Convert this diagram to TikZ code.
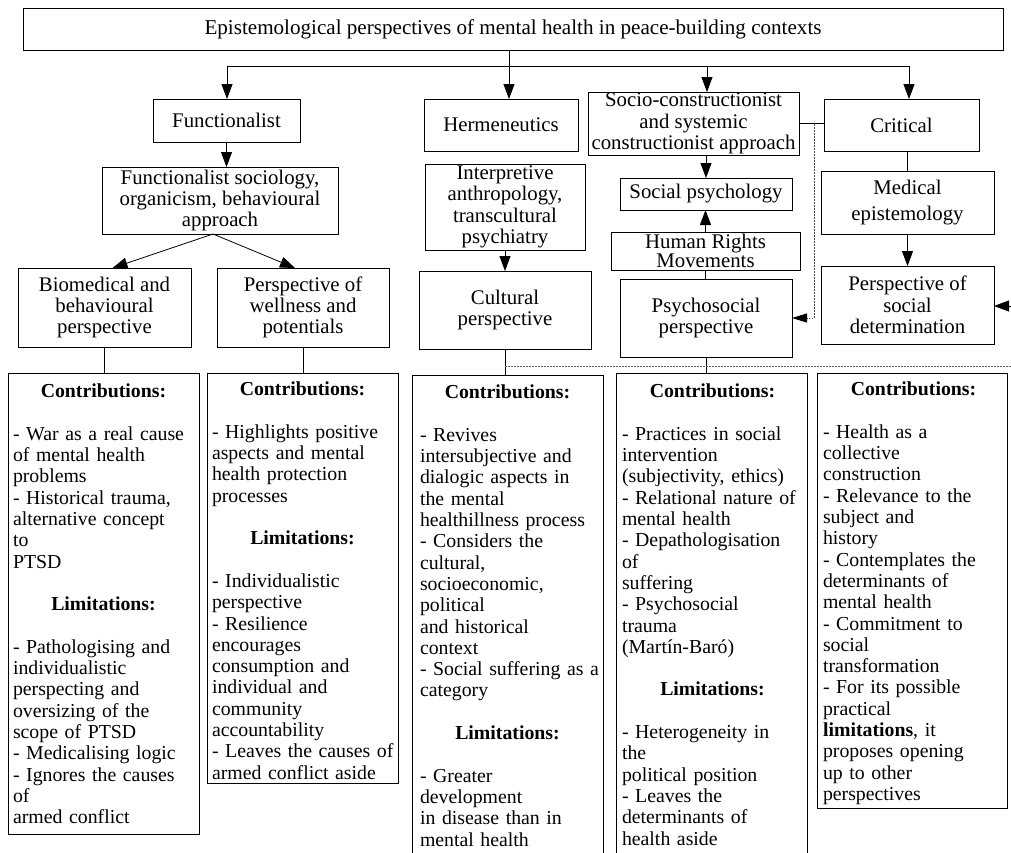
\documentclass[tikz,border=0pt]{standalone}
\usepackage{fontspec}
\setmainfont{Liberation Serif}
\usetikzlibrary{arrows.meta, positioning}

\newcommand{\heading}[1]{\makebox[181pt]{\textbf{#1}}}

\begin{document}
\begin{tikzpicture}[
    x=1pt, y=-1pt,
    font=\fontsize{20.8}{21.3}\selectfont,
    box/.style={rectangle, draw, line width=0.8pt, anchor=north west, align=center, inner sep=0pt, outer sep=0pt},
    sz/.style 2 args={minimum width=#1pt, minimum height=#2pt},
    panel/.style={rectangle, draw, line width=0.8pt, anchor=north west, inner sep=0pt, outer sep=0pt},
    paneltext/.style={anchor=north west, align=left, text width=200pt, inner sep=0pt, outer sep=0pt, font=\fontsize{19.8}{21.3}\selectfont},
    link/.style={line width=0.8pt},
    arrow/.style={-{Triangle[length=15pt, width=11pt]}, line width=0.8pt},
    darrow/.style={-{Triangle[length=15pt, width=9pt, black]}, line width=0.8pt, dash pattern=on 1.5pt off 1.5pt, color=black!70},
    dline/.style={line width=0.8pt, dash pattern=on 1.5pt off 1.5pt, color=black!60},
]
    \useasboundingbox (0,0) rectangle (1011,852);

    % Title
    \node[box, sz={980}{42}, font=\fontsize{21.1}{21.3}\selectfont] (title) at (23,8) {Epistemological perspectives of mental health in peace-building contexts};

    % Perspectives
    \node[box, sz={147}{43}] (func) at (153,99) {Functionalist};
    \node[box, sz={154}{52}] (herm) at (424,99) {Hermeneutics};
    \node[box, sz={211}{63}] (socio) at (588,92) {Socio-constructionist\\and systemic\\constructionist approach};
    \node[box, sz={155}{52}] (crit) at (824,99) {Critical};

    % Schools
    \node[box, sz={236}{67}] (fsoc) at (102,167) {Functionalist sociology,\\organicism, behavioural\\approach};
    \node[box, sz={160}{86}] (interp) at (425,164) {Interpretive\\anthropology,\\transcultural\\psychiatry};
    \node[box, sz={172}{32}] (socpsy) at (620,178) {Social psychology};
    \node[box, sz={189}{38}] (hrm) at (611,232) {Human Rights\\[-2pt]Movements};
    \node[box, sz={173}{63}] (med) at (821,171) {Medical\\[4pt]epistemology};

    % Resulting perspectives
    \node[box, sz={173}{79}] (bio) at (18,268) {Biomedical and\\behavioural\\perspective};
    \node[box, sz={172}{79}] (well) at (217,268) {Perspective of\\wellness and\\potentials};
    \node[box, sz={172}{78}] (cult) at (419,271) {Cultural\\perspective};
    \node[box, sz={172}{78}] (psy) at (620,279) {Psychosocial\\perspective};
    \node[box, sz={173}{78}] (psd) at (821,266) {Perspective of\\social\\determination};

    % Contribution panels
    \node[panel, sz={191}{461}] (pBio) at (8,373) {};
    \node[panel, sz={191}{410}] (pWell) at (207,373) {};
    \node[panel, sz={191}{520}] (pCult) at (412,375) {};
    \node[panel, sz={191}{520}] (pPsy) at (616,373) {};
    \node[panel, sz={190}{435}] (pCrit) at (817,373) {};

    \node[paneltext, below right=11pt and 5pt of pBio.north west] (tBio) {%
        \heading{Contributions:}\\[\baselineskip]
        - War as a real cause\\
        of mental health\\
        problems\\
        - Historical trauma,\\
        alternative concept\\
        to\\
        PTSD\\[\baselineskip]
        \heading{Limitations:}\\[\baselineskip]
        - Pathologising and\\
        individualistic\\
        perspecting and\\
        oversizing of the\\
        scope of PTSD\\
        - Medicalising logic\\
        - Ignores the causes\\
        of\\
        armed conflict};
    \node[paneltext, below right=9pt and 5pt of pWell.north west] (tWell) {%
        \heading{Contributions:}\\[\baselineskip]
        - Highlights positive\\
        aspects and mental\\
        health protection\\
        processes\\[\baselineskip]
        \heading{Limitations:}\\[\baselineskip]
        - Individualistic\\
        perspective\\
        - Resilience\\
        encourages\\
        consumption and\\
        individual and\\
        community\\
        accountability\\
        - Leaves the causes of\\
        armed conflict aside};
    \node[paneltext, below right=10pt and 8pt of pCult.north west] (tCult) {%
        \makebox[175pt]{\textbf{Contributions:}}\\[\baselineskip]
        - Revives\\
        intersubjective and\\
        dialogic aspects in\\
        the mental\\
        healthillness process\\
        - Considers the\\
        cultural,\\
        socioeconomic,\\
        political\\
        and historical\\
        context\\
        - Social suffering as a\\
        category\\[\baselineskip]
        \makebox[175pt]{\textbf{Limitations:}}\\[\baselineskip]
        - Greater\\
        development\\
        in disease than in\\
        mental health};
    \node[paneltext, below right=11pt and 6pt of pPsy.north west] (tPsy) {%
        \heading{Contributions:}\\[\baselineskip]
        - Practices in social\\
        intervention\\
        (subjectivity, ethics)\\
        - Relational nature of\\
        mental health\\
        - Depathologisation\\
        of\\
        suffering\\
        - Psychosocial\\
        trauma\\
        (Martín-Baró)\\[\baselineskip]
        \heading{Limitations:}\\[\baselineskip]
        - Heterogeneity in\\
        the\\
        political position\\
        - Leaves the\\
        determinants of\\
        health aside};
    \node[paneltext, below right=9pt and 6pt of pCrit.north west] (tCrit) {%
        \heading{Contributions:}\\[\baselineskip]
        - Health as a\\
        collective\\
        construction\\
        - Relevance to the\\
        subject and\\
        history\\
        - Contemplates the\\
        determinants of\\
        mental health\\
        - Commitment to\\
        social\\
        transformation\\
        - For its possible\\
        practical\\
        \textbf{limitations}, it\\
        proposes opening\\
        up to other\\
        perspectives};

    % Distribution bar
    \coordinate (barL) at (227,66);
    \coordinate (barM) at (509,66);
    \coordinate (barS) at (707,66);
    \coordinate (barR) at (909,66);
    \draw[link] (barL) -- (barR);
    \draw[arrow] (title.south -| barM) -- (barM |- herm.north);
    \draw[arrow] (barL) -- (barL |- func.north);
    \draw[arrow] (barS) -- (barS |- socio.north);
    \draw[arrow] (barR) -- (barR |- crit.north);

    % Functionalist branch
    \draw[arrow] (func.south) -- (func.south |- fsoc.north);
    \draw[arrow] ([xshift=-7pt]fsoc.south) -- ([xshift=8pt]bio.north);
    \draw[arrow] ([xshift=-7pt]fsoc.south) -- ([xshift=-8pt]well.north);
    \draw[link] (bio.south) -- (bio.south |- pBio.north);
    \draw[link] (well.south) -- (well.south |- pWell.north);

    % Hermeneutics branch
    \draw[arrow] (interp.south) -- (cult.north);
    \draw[link] (cult.south) -- (cult.south |- pCult.north);

    % Socio-constructionist branch
    \draw[arrow] (socpsy.north |- socio.south) -- (socpsy.north);
    \draw[arrow] (hrm.north) -- (hrm.north |- socpsy.south);
    \draw[link] (hrm.south) -- (hrm.south |- psy.north);
    \draw[link] (psy.south) -- (psy.south |- pPsy.north);
    \draw[link] (socio.east) -- (socio.east -| crit.west);
    \coordinate (dotTop) at (814,124);
    \draw[darrow] (dotTop) |- (psy.east);

    % Critical branch
    \draw[link] (crit.south -| med.north) -- (med.north);
    \draw[arrow] (med.south) -- (psd.north);
    \coordinate (rightIn) at (1011,306);
    \draw[arrow] (rightIn) -- (rightIn -| psd.east);

    % Dotted rule over the panels
    \coordinate (dotEnd) at (1011,366);
    \draw[dline] (cult.south |- dotEnd) -- (dotEnd);
\end{tikzpicture}
\end{document}
